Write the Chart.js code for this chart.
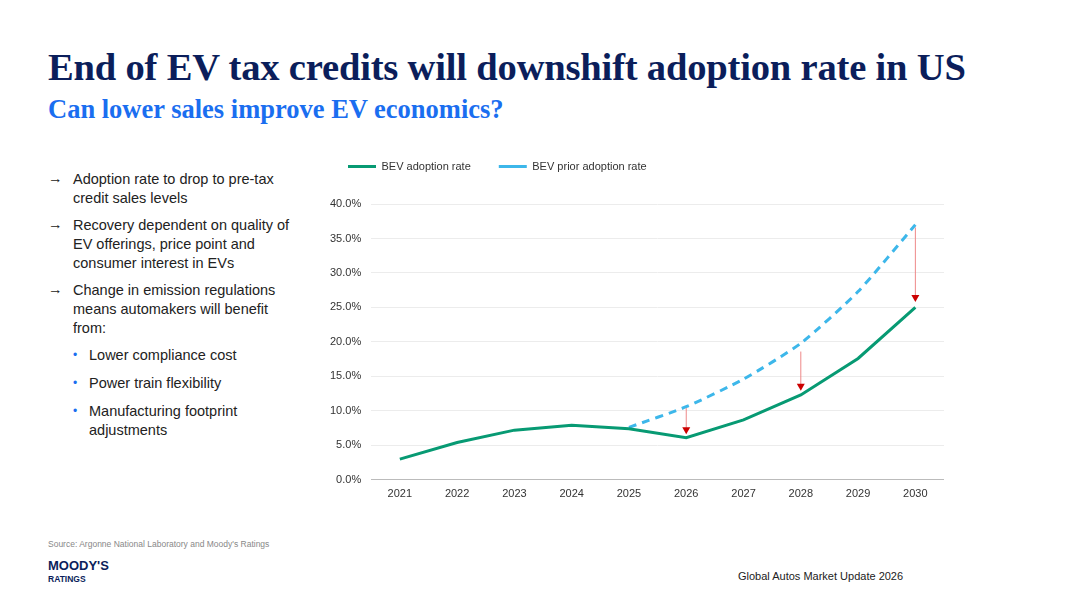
<!DOCTYPE html>
<html><head><meta charset="utf-8">
<script src="https://cdn.jsdelivr.net/npm/chart.js@4"></script>
<style>
body{margin:0;width:1080px;height:607px;background:#fff;position:relative;overflow:hidden;font-family:Arial,"Liberation Sans",sans-serif}
h1{position:absolute;left:48px;top:45px;margin:0;font:bold 38.6px "Liberation Serif",serif;color:#0b1e5b;letter-spacing:-0.2px}
h2{position:absolute;left:48px;top:94px;margin:0;font:bold 26.5px "Liberation Serif",serif;color:#1a6ef0}
#bul{position:absolute;left:48px;top:170px;width:245px;font-size:14.5px;color:#222;line-height:19px}
.a{position:relative;padding-left:25px;margin-bottom:8px}
.a:before{content:"→";position:absolute;left:0;top:-1px}
.s{position:relative;padding-left:41px;margin-bottom:9px}
.s:before{content:"•";position:absolute;left:25px;color:#1a6ef0;font-size:12px}
#src{position:absolute;left:48px;top:539px;font-size:8.5px;color:#888}
#logo{position:absolute;left:48px;top:560px;color:#0b1e5b;font-weight:900;font-size:13px;line-height:12px}
#logo span{font-size:8.5px;font-weight:bold}
#foot{position:absolute;left:738px;top:570px;font-size:11px;color:#222}
#wrap{position:absolute;left:320px;top:133px;width:624px;height:371px}
</style></head><body>
<h1>End of EV tax credits will downshift adoption rate in US</h1>
<h2>Can lower sales improve EV economics?</h2>
<div id="bul">
<div class="a">Adoption rate to drop to pre-tax credit sales levels</div>
<div class="a">Recovery dependent on quality of EV offerings, price point and consumer interest in EVs</div>
<div class="a">Change in emission regulations means automakers will benefit from:</div>
<div class="s">Lower compliance cost</div>
<div class="s">Power train flexibility</div>
<div class="s">Manufacturing footprint adjustments</div>
</div>
<div id="src">Source: Argonne National Laboratory and Moody's Ratings</div>
<div id="logo">MOODY'S<br><span>RATINGS</span></div>
<div id="foot">Global Autos Market Update 2026</div>
<div id="wrap"><canvas id="c"></canvas></div>
<script>
const years = ["2021","2022","2023","2024","2025","2026","2027","2028","2029","2030"];
const bevAdoption = [3.0, 5.4, 7.2, 7.9, 7.4, 6.1, 8.7, 12.3, 17.6, 25.0];
const bevPrior = [null, null, null, null, 7.6, 10.6, 14.6, 19.8, 27.3, 37.0];
// red arrows: year index, from value, to value
const arrowIdx = [5, 7, 9];
const arrowFrom = [10.4, 18.6, 36.6];
const arrowTo = [6.6, 12.9, 25.8];

const arrows = {
  id: "arrows",
  afterDatasetsDraw(chart) {
    const { ctx, scales: { x, y } } = chart;
    ctx.save();
    arrowIdx.forEach((i, k) => {
      const px = x.getPixelForValue(i);
      const y0 = y.getPixelForValue(arrowFrom[k]);
      const y1 = y.getPixelForValue(arrowTo[k]);
      ctx.strokeStyle = "#e88";
      ctx.lineWidth = 1;
      ctx.beginPath(); ctx.moveTo(px, y0); ctx.lineTo(px, y1 - 6); ctx.stroke();
      ctx.fillStyle = "#cc0000";
      ctx.beginPath(); ctx.moveTo(px - 4, y1 - 7); ctx.lineTo(px + 4, y1 - 7); ctx.lineTo(px, y1); ctx.closePath(); ctx.fill();
    });
    ctx.restore();
  }
};

const legendGap = {
  id: "legendGap",
  beforeInit(chart) {
    const fit = chart.legend.fit;
    chart.legend.fit = function () { fit.bind(chart.legend)(); this.height += 22; };
  }
};

new Chart(document.getElementById("c"), {
  type: "line",
  data: {
    labels: years,
    datasets: [
      { label: "BEV adoption rate", data: bevAdoption, borderColor: "#079a73", backgroundColor: "#079a73", borderWidth: 3, pointRadius: 0, tension: 0 },
      { label: "BEV prior adoption rate", data: bevPrior, borderColor: "#3db7ea", backgroundColor: "#3db7ea", borderWidth: 3, borderDash: [8, 6], pointRadius: 0, tension: 0.2 },
    ],
  },
  options: {
    responsive: true,
    maintainAspectRatio: false,
    animation: false,
    scales: {
      x: {
        grid: { display: false, tickLength: 5 },
        offset: true,
        border: { color: "#bbb" },
        ticks: { color: "#333", font: { size: 11 } },
      },
      y: {
        min: 0, max: 40,
        ticks: { stepSize: 5, color: "#333", font: { size: 11 }, padding: 10, callback: (v) => v.toFixed(1) + "%" },
        grid: { color: "#ececec", drawTicks: false },
        border: { display: false },
      },
    },
    plugins: {
      legend: {
        align: "start",
        labels: { boxWidth: 28, boxHeight: 0, color: "#333", font: { size: 11 }, padding: 28,
          generateLabels: (chart) => Chart.defaults.plugins.legend.labels.generateLabels(chart).map((l) => ({ ...l, lineWidth: 3 })) },
      },
      tooltip: { enabled: false },
    },
  },
  plugins: [arrows, legendGap],
});
</script>
</body></html>
